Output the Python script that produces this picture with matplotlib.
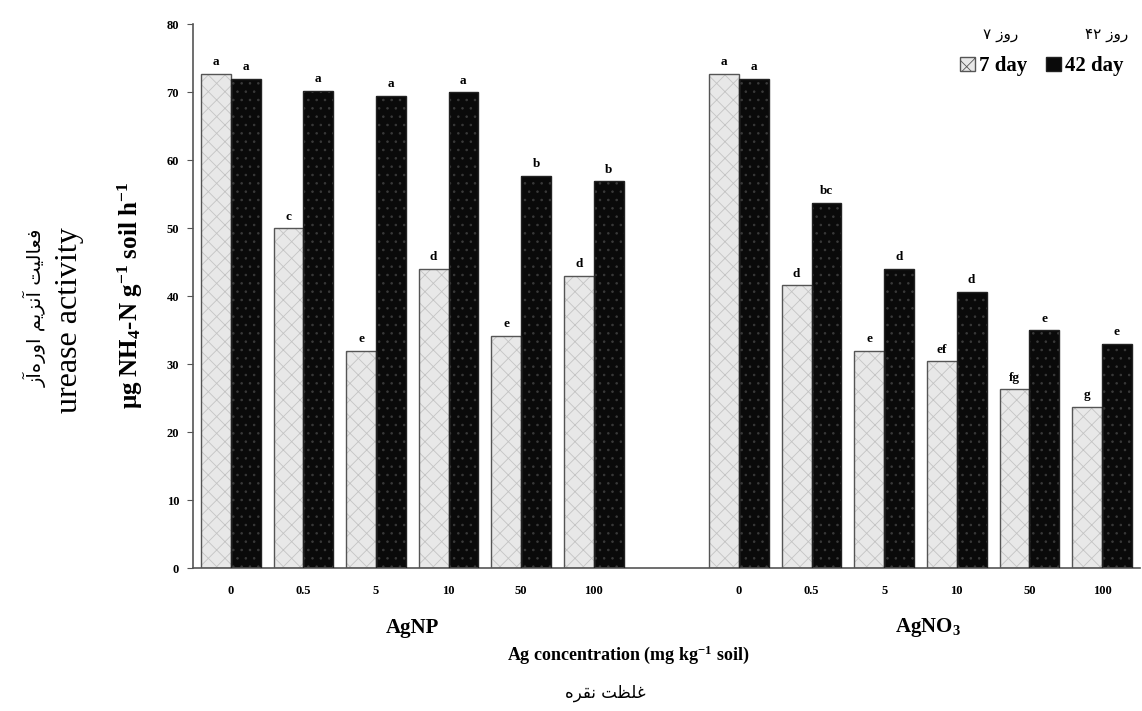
import matplotlib
matplotlib.use("Agg")
import matplotlib.pyplot as plt
import matplotlib.transforms as mtransforms
from matplotlib.patches import Patch
import numpy as np

# concentrations (mg kg-1 soil) for each silver source
conc_labels = ["0", "0.5", "5", "10", "50", "100"]

agnp_day7 = [72.7, 50.0, 32.0, 44.0, 34.2, 43.0]
agnp_day42 = [72.0, 70.2, 69.5, 70.0, 57.7, 56.9]
agno3_day7 = [72.7, 41.6, 32.0, 30.4, 26.3, 23.7]
agno3_day42 = [72.0, 53.7, 44.0, 40.6, 35.0, 33.0]

agnp_letters7 = ["a", "c", "e", "d", "e", "d"]
agnp_letters42 = ["a", "a", "a", "a", "b", "b"]
agno3_letters7 = ["a", "d", "e", "ef", "fg", "g"]
agno3_letters42 = ["a", "bc", "d", "d", "e", "e"]

# Persian strings, written in visual order with presentation forms
fa_ylabel = "\ufeaf\ufe81\ufee9\ufead\ufeed\ufe8d \ufee2\ufef3\ufeb0\ufee7\ufe81 \ufe96\ufef4\ufedf\ufe8e\ufecc\ufed3"
fa_xlabel = "\ufee9\ufeae\ufed8\ufee7 \ufe96\ufec8\ufee0\ufecf"
fa_day7 = "\u06f7 \ufeaf\ufeed\ufead"
fa_day42 = "\u06f4\u06f2 \ufeaf\ufeed\ufead"

SERIF = "Liberation Serif"
plt.rcParams["mathtext.fontset"] = "custom"
plt.rcParams["mathtext.rm"] = "Liberation Serif:bold"
plt.rcParams["mathtext.it"] = "Liberation Serif:bold"
plt.rcParams["mathtext.bf"] = "Liberation Serif:bold"
plt.rcParams["mathtext.default"] = "rm"
plt.rcParams["hatch.linewidth"] = 0.6

fig = plt.figure(figsize=(11.42, 7.11), dpi=100)
ax = fig.add_axes([0.169, 0.201, 0.829, 0.765])

n = len(conc_labels)
x_np = np.arange(n)
x_no3 = np.arange(n) + n + 1
xs = np.concatenate([x_np, x_no3])
day7 = agnp_day7 + agno3_day7
day42 = agnp_day42 + agno3_day42
letters7 = agnp_letters7 + agno3_letters7
letters42 = agnp_letters42 + agno3_letters42

w = 0.41
x7 = xs - w / 2
x42 = xs + w / 2

# light bars: textured fill then outline
ax.bar(x7, day7, w, color="#e8e8e8", edgecolor="#c4c4c4", hatch="xx", linewidth=0, zorder=2)
ax.bar(x7, day7, w, fill=False, edgecolor="#555555", linewidth=1.0, zorder=3)
# dark bars
ax.bar(x42, day42, w, color="#0a0a0a", edgecolor="#3a3a3a", hatch="..", linewidth=0, zorder=2)
ax.bar(x42, day42, w, fill=False, edgecolor="#222222", linewidth=1.0, zorder=3)

for xi, v, lab in zip(x7, day7, letters7):
    ax.annotate(lab, (xi, v), xytext=(0, 4), textcoords="offset points", ha="center", va="bottom",
                fontsize=9.5, fontweight="bold", family=SERIF)
for xi, v, lab in zip(x42, day42, letters42):
    ax.annotate(lab, (xi, v), xytext=(0, 4), textcoords="offset points", ha="center", va="bottom",
                fontsize=9.5, fontweight="bold", family=SERIF)

ax.set_xlim(-0.52, 12.52)
ax.set_ylim(0, 80)
ax.set_yticks(np.arange(0, 81, 10))
ax.set_xticks(xs)
ax.set_xticklabels(conc_labels * 2)
ax.tick_params(axis="x", length=0, pad=12)
ax.tick_params(axis="y", direction="out", length=4, color="#555555", pad=6)
for lab in ax.get_xticklabels() + ax.get_yticklabels():
    lab.set_fontfamily(SERIF)
    lab.set_fontweight("bold")
    lab.set_fontsize(9)
for side in ["top", "right"]:
    ax.spines[side].set_visible(False)
for side in ["left", "bottom"]:
    ax.spines[side].set_color("#555555")
    ax.spines[side].set_linewidth(1.2)

# group labels under the axis
trans = mtransforms.blended_transform_factory(ax.transData, fig.transFigure)
ax.text(x_np.mean(), 0.117, "AgNP", transform=trans, ha="center", va="center",
        fontsize=15, fontweight="bold", family=SERIF)
ax.text(x_no3.mean() + 0.1, 0.117, "AgNO$_3$", transform=trans, ha="center", va="center",
        fontsize=15, fontweight="bold", family=SERIF)

fig.text(0.55, 0.079, "Ag concentration (mg kg$^{-1}$ soil)", ha="center", va="center",
         fontsize=13, fontweight="bold", family=SERIF)
fig.text(0.53, 0.025, fa_xlabel, ha="center", va="center", fontsize=12, family="DejaVu Sans")

fig.text(0.114, 0.585, "\u03bcg NH$_4$-N g$^{-1}$ soil h$^{-1}$", rotation=90, ha="center", va="center",
         fontsize=18, fontweight="bold", family=SERIF)
fig.text(0.061, 0.55, "urease activity", rotation=90, ha="center", va="center",
         fontsize=23, family=SERIF)
fig.text(0.031, 0.567, fa_ylabel, rotation=90, ha="center", va="center",
         fontsize=14, family="DejaVu Sans")

# legend
handles = [
    Patch(facecolor="#e8e8e8", edgecolor="#555555", hatch="xx", label="7 day"),
    Patch(facecolor="#0a0a0a", edgecolor="#222222", label="42 day"),
]
fig.legend(handles=handles, loc="upper right", bbox_to_anchor=(1.0, 0.947), ncol=2, frameon=False,
           handlelength=0.7, handleheight=0.7, handletextpad=0.2, columnspacing=0.9,
           prop={"family": SERIF, "weight": "bold", "size": 15})
fig.text(0.876, 0.952, fa_day7, ha="center", va="center", fontsize=11, family="DejaVu Sans")
fig.text(0.969, 0.952, fa_day42, ha="center", va="center", fontsize=11, family="DejaVu Sans")

fig.savefig("out.png", dpi=100)
